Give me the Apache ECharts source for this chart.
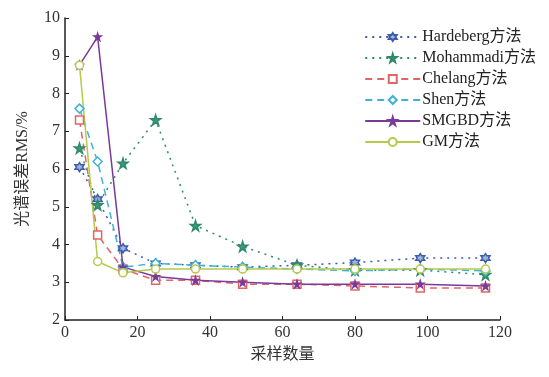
<!DOCTYPE html>
<html><head><meta charset="utf-8">
<script src="https://cdn.jsdelivr.net/npm/echarts@6/dist/echarts.min.js"></script>
<style>html,body{margin:0;padding:0;background:#fff}#c{width:549px;height:377px}</style>
</head><body><div id="c"></div>
<script>
var xVals = [4, 9, 16, 25, 36, 49, 64, 80, 98, 116];
var hardeberg = [6.05, 5.2, 3.9, 3.5, 3.45, 3.4, 3.45, 3.52, 3.64, 3.64];
var mohammadi = [6.55, 5.05, 6.15, 7.3, 4.5, 3.95, 3.45, 3.32, 3.32, 3.2];
var chelang = [7.3, 4.25, 3.35, 3.05, 3.05, 2.95, 2.95, 2.9, 2.85, 2.85];
var shen = [7.6, 6.2, 3.4, 3.5, 3.45, 3.4, 3.35, 3.3, 3.35, 3.3];
var smgbd = [8.75, 9.5, 3.4, 3.15, 3.05, 3.0, 2.95, 2.95, 2.95, 2.9];
var gm = [8.75, 3.55, 3.25, 3.35, 3.35, 3.35, 3.35, 3.35, 3.35, 3.35];
var names = ['Hardeberg方法', 'Mohammadi方法', 'Chelang方法', 'Shen方法', 'SMGBD方法', 'GM方法'];
var xTicks = [0, 20, 40, 60, 80, 100, 120];
var yTicks = [2, 3, 4, 5, 6, 7, 8, 9, 10];

var FONT = "'Liberation Serif', 'Noto Sans CJK SC', serif";
var starPath = 'path://M50,0 L61,35 L98,35 L68,57 L79,91 L50,70 L21,91 L32,57 L2,35 L39,35 Z';
var hexPath = 'path://M50,0 L64,25 L93,25 L79,50 L93,75 L64,75 L50,100 L36,75 L7,75 L21,50 L7,25 L36,25 Z';

function pairs(v){ return xVals.map(function(x,i){ return [x, v[i]]; }); }

var defs = [
  {d: hardeberg, color:'#3b5ca8', type:[2,5], symbol: hexPath, size:9, fill:'#9fb3e0'},
  {d: mohammadi, color:'#2f8a6a', type:[2,5], symbol: starPath, size:10, fill:'#3f9a7a'},
  {d: chelang, color:'#e06666', type:[7,5], symbol:'rect', size:8, fill:'#fff'},
  {d: shen, color:'#3fb3d6', type:[7,5], symbol:'diamond', size:9, fill:'#fff'},
  {d: smgbd, color:'#7a3a9a', type:'solid', symbol: starPath, size:7, fill:'#7a3a9a'},
  {d: gm, color:'#b5c94a', type:'solid', symbol:'circle', size:8, fill:'#fff'}
];

var series = defs.map(function(s, i){
  return {
    name: names[i], type:'line', data: pairs(s.d), symbol: s.symbol, symbolSize: s.size,
    showAllSymbol: true,
    lineStyle:{color:s.color, width:1.5, type:s.type},
    itemStyle:{color:s.fill, borderColor:s.color, borderWidth:1.5},
    emphasis:{disabled:true}, animation:false
  };
});

var chart = echarts.init(document.getElementById('c'), null, {renderer:'canvas'});
chart.setOption({
  animation:false,
  backgroundColor:'#fff',
  grid:{left:65, right:49, top:18, bottom:57, containLabel:false},
  legend:{
    right:8, top:24, orient:'vertical', itemGap:5, itemWidth:55, itemHeight:10,
    textStyle:{fontFamily:FONT, fontSize:16, color:'#222', padding:[0,0,0,-3]},
    data: names
  },
  xAxis:{
    type:'value', min:0, max:120, interval:20,
    name:'采样数量', nameLocation:'middle', nameGap:27,
    nameTextStyle:{fontFamily:FONT, fontSize:16, color:'#333'},
    axisLine:{lineStyle:{color:'#222', width:1.5}},
    axisTick:{inside:true, length:4, lineStyle:{color:'#222'}},
    axisLabel:{fontFamily:FONT, fontSize:16, color:'#333', margin:5,
      formatter:function(v){ return xTicks.indexOf(v)>=0 ? String(v) : ''; }},
    splitLine:{show:false}
  },
  yAxis:{
    type:'value', min:2, max:10, interval:1,
    name:'光谱误差RMS/%', nameLocation:'middle', nameGap:34,
    nameTextStyle:{fontFamily:FONT, fontSize:16, color:'#333'},
    axisLine:{show:true, lineStyle:{color:'#222', width:1.5}},
    axisTick:{show:true, inside:true, length:4, lineStyle:{color:'#222'}},
    axisLabel:{fontFamily:FONT, fontSize:16, color:'#333', margin:5,
      formatter:function(v){ return yTicks.indexOf(v)>=0 ? String(v) : ''; }},
    splitLine:{show:false}
  },
  series: series
});
</script></body></html>
